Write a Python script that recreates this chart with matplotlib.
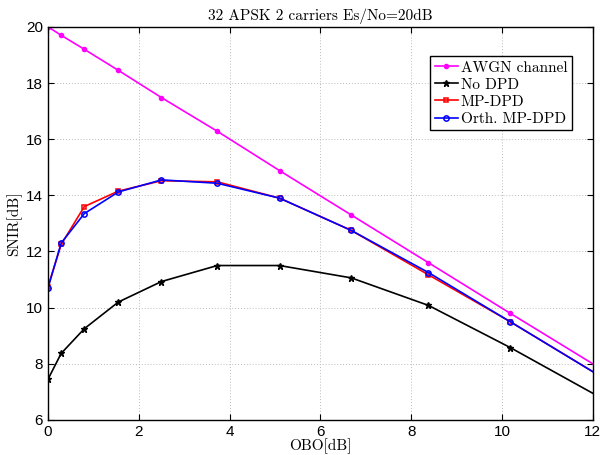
import matplotlib
matplotlib.use("Agg")
import matplotlib.pyplot as plt

obo = [0, 0.29, 0.8, 1.55, 2.5, 3.73, 5.1, 6.68, 8.38, 10.18, 12.0]
awgn = [20.0, 19.7, 19.2, 18.45, 17.48, 16.28, 14.88, 13.3, 11.6, 9.8, 8.0]
no_dpd = [7.45, 8.37, 9.25, 10.2, 10.93, 11.5, 11.5, 11.06, 10.08, 8.58, 6.95]
mp_dpd = [10.75, 12.25, 13.6, 14.15, 14.52, 14.48, 13.9, 12.75, 11.17, 9.5, 7.72]
orth_dpd = [10.7, 12.3, 13.35, 14.12, 14.55, 14.43, 13.9, 12.75, 11.25, 9.5, 7.72]

serif = {"family": "cmr10"}

fig = plt.figure(figsize=(6, 4.55), dpi=100)
ax = fig.add_axes([0.08, 0.077, 0.908, 0.864])

mk = slice(0, 10)
ax.plot(obo, awgn, color="magenta", marker=".", ms=6, lw=1.2, markevery=mk, label="AWGN channel")
ax.plot(obo, no_dpd, color="black", marker="*", ms=5, lw=1.2, markevery=mk, label="No DPD")
ax.plot(obo, mp_dpd, color="red", marker="s", ms=3.5, mfc="none", mew=1.1, lw=1.2, markevery=mk, label="MP-DPD")
ax.plot(obo, orth_dpd, color="blue", marker="o", ms=3.8, mfc="none", mew=1.1, lw=1.2, markevery=mk, label="Orth. MP-DPD")

ax.set_xlim(0, 12)
ax.set_ylim(6, 20)
ax.set_xticks(range(0, 13, 2))
ax.set_yticks(range(6, 21, 2))
ax.grid(True, linestyle=(0, (1, 2)), color="#bbbbbb", linewidth=0.7)
ax.tick_params(direction="in", top=True, right=True, labelsize=11, length=4)
for lab in ax.get_xticklabels() + ax.get_yticklabels():
    lab.set_family("Liberation Sans")
for s in ax.spines.values():
    s.set_linewidth(1.0)

ax.set_title("32 APSK 2 carriers Es/No=20dB", fontsize=11, pad=5, **serif)
ax.set_xlabel("OBO[dB]", fontsize=11, labelpad=0, **serif)
ax.set_ylabel("SNIR[dB]", fontsize=11, labelpad=3, **serif)

leg = ax.legend(loc="upper right", bbox_to_anchor=(0.962, 0.925), prop={"family": "cmr10", "size": 11},
                fancybox=False, framealpha=1, edgecolor="black", handlelength=1.5,
                handletextpad=0.2, borderpad=0.3, labelspacing=0.22, borderaxespad=0)
leg.get_frame().set_linewidth(1.0)

fig.savefig("out.png", dpi=100)
